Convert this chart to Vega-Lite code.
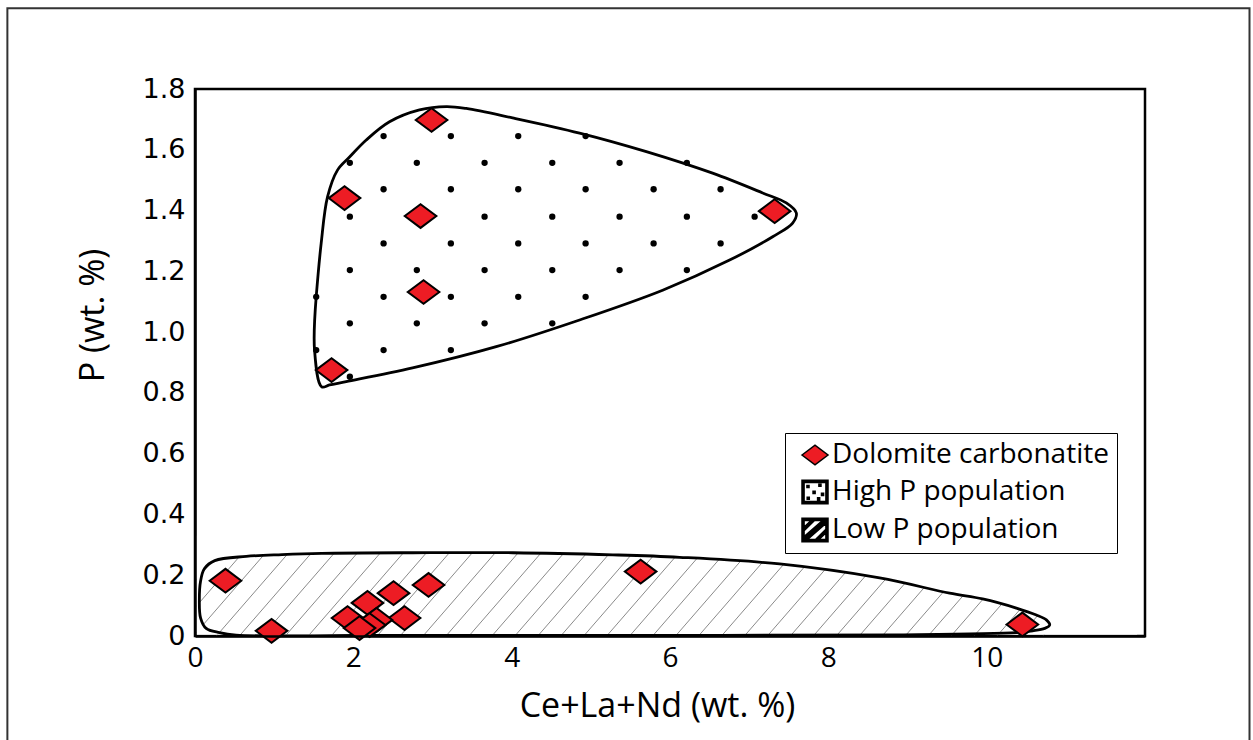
{
  "$schema": "https://vega.github.io/schema/vega-lite/v6.json",
  "autosize": "none",
  "width": 950,
  "height": 547,
  "padding": {"left": 195, "top": 89, "right": 108, "bottom": 104},
  "background": "white",
  "config": {
    "view": {"stroke": "black", "strokeWidth": 2.5},
    "axis": {"grid": false, "ticks": false, "domainColor": "black", "domainWidth": 2.5, "labelColor": "black", "titleColor": "black", "titleFontWeight": "normal", "labelFlush": false, "labelOverlap": false}
  },
  "datasets": {
    "points": [
      {"x": 2.988, "y": 1.698, "series": "Dolomite carbonatite"},
      {"x": 1.889, "y": 1.441, "series": "Dolomite carbonatite"},
      {"x": 2.849, "y": 1.382, "series": "Dolomite carbonatite"},
      {"x": 7.322, "y": 1.398, "series": "Dolomite carbonatite"},
      {"x": 2.887, "y": 1.132, "series": "Dolomite carbonatite"},
      {"x": 1.725, "y": 0.875, "series": "Dolomite carbonatite"},
      {"x": 0.385, "y": 0.182, "series": "Dolomite carbonatite"},
      {"x": 0.967, "y": 0.017, "series": "Dolomite carbonatite"},
      {"x": 5.629, "y": 0.212, "series": "Dolomite carbonatite"},
      {"x": 10.451, "y": 0.038, "series": "Dolomite carbonatite"},
      {"x": 2.95, "y": 0.168, "series": "Dolomite carbonatite"},
      {"x": 2.508, "y": 0.141, "series": "Dolomite carbonatite"},
      {"x": 2.179, "y": 0.109, "series": "Dolomite carbonatite"},
      {"x": 1.927, "y": 0.059, "series": "Dolomite carbonatite"},
      {"x": 2.647, "y": 0.059, "series": "Dolomite carbonatite"},
      {"x": 2.293, "y": 0.053, "series": "Dolomite carbonatite"},
      {"x": 2.205, "y": 0.036, "series": "Dolomite carbonatite"},
      {"x": 2.078, "y": 0.026, "series": "Dolomite carbonatite"}
    ],
    "highHull": [
      {"i": 1, "x": 1.531, "y": 1.117}, {"i": 2, "x": 1.594, "y": 1.293}, {"i": 3, "x": 1.674, "y": 1.445},
      {"i": 4, "x": 1.8, "y": 1.533}, {"i": 5, "x": 1.952, "y": 1.576}, {"i": 6, "x": 2.163, "y": 1.632},
      {"i": 7, "x": 2.457, "y": 1.692}, {"i": 8, "x": 2.836, "y": 1.731}, {"i": 9, "x": 3.174, "y": 1.742},
      {"i": 10, "x": 3.426, "y": 1.736}, {"i": 11, "x": 4.011, "y": 1.705}, {"i": 12, "x": 4.858, "y": 1.655},
      {"i": 13, "x": 5.701, "y": 1.594}, {"i": 14, "x": 6.538, "y": 1.523}, {"i": 15, "x": 7.17, "y": 1.458},
      {"i": 16, "x": 7.469, "y": 1.425}, {"i": 17, "x": 7.596, "y": 1.392}, {"i": 18, "x": 7.549, "y": 1.359},
      {"i": 19, "x": 7.297, "y": 1.314}, {"i": 20, "x": 6.753, "y": 1.237}, {"i": 21, "x": 5.907, "y": 1.138},
      {"i": 22, "x": 4.858, "y": 1.04}, {"i": 23, "x": 3.805, "y": 0.952}, {"i": 24, "x": 2.748, "y": 0.882},
      {"i": 25, "x": 1.91, "y": 0.837}, {"i": 26, "x": 1.699, "y": 0.826}, {"i": 27, "x": 1.6, "y": 0.82},
      {"i": 28, "x": 1.51, "y": 0.941}, {"i": 29, "x": 1.531, "y": 1.117}
    ],
    "lowHull": [
      {"i": 1, "x": 2.0, "y": 0.002}, {"i": 2, "x": 0.52, "y": 0.003}, {"i": 3, "x": 0.31, "y": 0.011},
      {"i": 4, "x": 0.141, "y": 0.025}, {"i": 5, "x": 0.07, "y": 0.06}, {"i": 6, "x": 0.055, "y": 0.118},
      {"i": 7, "x": 0.07, "y": 0.18}, {"i": 8, "x": 0.12, "y": 0.222}, {"i": 9, "x": 0.25, "y": 0.248},
      {"i": 10, "x": 0.647, "y": 0.262}, {"i": 11, "x": 1.1, "y": 0.268}, {"i": 12, "x": 1.6, "y": 0.272},
      {"i": 13, "x": 2.75, "y": 0.274}, {"i": 14, "x": 4.015, "y": 0.274}, {"i": 15, "x": 5.279, "y": 0.267},
      {"i": 16, "x": 6.121, "y": 0.259}, {"i": 17, "x": 7.385, "y": 0.237}, {"i": 18, "x": 8.648, "y": 0.191},
      {"i": 19, "x": 9.532, "y": 0.141}, {"i": 20, "x": 9.949, "y": 0.122}, {"i": 21, "x": 10.375, "y": 0.092},
      {"i": 22, "x": 10.628, "y": 0.069}, {"i": 23, "x": 10.754, "y": 0.053}, {"i": 24, "x": 10.796, "y": 0.036},
      {"i": 25, "x": 10.733, "y": 0.025}, {"i": 26, "x": 10.581, "y": 0.017}, {"i": 27, "x": 10.375, "y": 0.011},
      {"i": 28, "x": 8.901, "y": 0.004}, {"i": 29, "x": 5.11, "y": 0.002}, {"i": 30, "x": 2.0, "y": 0.002}
    ],
    "mask": [
      {"i": 0, "x": 0.02, "y": 0.005}, {"i": 1, "x": 11.9, "y": 0.005}, {"i": 2, "x": 11.9, "y": 0.33},
      {"i": 3, "x": 0.02, "y": 0.33}, {"i": 4, "x": 0.02, "y": 0.005},
      {"i": 5, "x": 2.0, "y": 0.002}, {"i": 6, "x": 0.52, "y": 0.003}, {"i": 7, "x": 0.31, "y": 0.011},
      {"i": 8, "x": 0.141, "y": 0.025}, {"i": 9, "x": 0.07, "y": 0.06}, {"i": 10, "x": 0.055, "y": 0.118},
      {"i": 11, "x": 0.07, "y": 0.18}, {"i": 12, "x": 0.12, "y": 0.222}, {"i": 13, "x": 0.25, "y": 0.248},
      {"i": 14, "x": 0.647, "y": 0.262}, {"i": 15, "x": 1.1, "y": 0.268}, {"i": 16, "x": 1.6, "y": 0.272},
      {"i": 17, "x": 2.75, "y": 0.274}, {"i": 18, "x": 4.015, "y": 0.274}, {"i": 19, "x": 5.279, "y": 0.267},
      {"i": 20, "x": 6.121, "y": 0.259}, {"i": 21, "x": 7.385, "y": 0.237}, {"i": 22, "x": 8.648, "y": 0.191},
      {"i": 23, "x": 9.532, "y": 0.141}, {"i": 24, "x": 9.949, "y": 0.122}, {"i": 25, "x": 10.375, "y": 0.092},
      {"i": 26, "x": 10.628, "y": 0.069}, {"i": 27, "x": 10.754, "y": 0.053}, {"i": 28, "x": 10.796, "y": 0.036},
      {"i": 29, "x": 10.733, "y": 0.025}, {"i": 30, "x": 10.581, "y": 0.017}, {"i": 31, "x": 10.375, "y": 0.011},
      {"i": 32, "x": 8.901, "y": 0.004}, {"i": 33, "x": 5.11, "y": 0.002}, {"i": 34, "x": 2.0, "y": 0.002},
      {"i": 35, "x": 0.02, "y": 0.005}
    ],
    "hatch": [
      {"x": -0.6, "y": 0, "x2": 0.35, "y2": 0.285}, {"x": -0.31, "y": 0, "x2": 0.64, "y2": 0.285},
      {"x": -0.02, "y": 0, "x2": 0.93, "y2": 0.285}, {"x": 0.27, "y": 0, "x2": 1.22, "y2": 0.285},
      {"x": 0.56, "y": 0, "x2": 1.51, "y2": 0.285}, {"x": 0.85, "y": 0, "x2": 1.8, "y2": 0.285},
      {"x": 1.14, "y": 0, "x2": 2.09, "y2": 0.285}, {"x": 1.43, "y": 0, "x2": 2.38, "y2": 0.285},
      {"x": 1.72, "y": 0, "x2": 2.67, "y2": 0.285}, {"x": 2.01, "y": 0, "x2": 2.96, "y2": 0.285},
      {"x": 2.3, "y": 0, "x2": 3.25, "y2": 0.285}, {"x": 2.59, "y": 0, "x2": 3.54, "y2": 0.285},
      {"x": 2.88, "y": 0, "x2": 3.83, "y2": 0.285}, {"x": 3.17, "y": 0, "x2": 4.12, "y2": 0.285},
      {"x": 3.46, "y": 0, "x2": 4.41, "y2": 0.285}, {"x": 3.75, "y": 0, "x2": 4.7, "y2": 0.285},
      {"x": 4.04, "y": 0, "x2": 4.99, "y2": 0.285}, {"x": 4.33, "y": 0, "x2": 5.28, "y2": 0.285},
      {"x": 4.62, "y": 0, "x2": 5.57, "y2": 0.285}, {"x": 4.91, "y": 0, "x2": 5.86, "y2": 0.285},
      {"x": 5.2, "y": 0, "x2": 6.15, "y2": 0.285}, {"x": 5.49, "y": 0, "x2": 6.44, "y2": 0.285},
      {"x": 5.78, "y": 0, "x2": 6.73, "y2": 0.285}, {"x": 6.07, "y": 0, "x2": 7.02, "y2": 0.285},
      {"x": 6.36, "y": 0, "x2": 7.31, "y2": 0.285}, {"x": 6.65, "y": 0, "x2": 7.6, "y2": 0.285},
      {"x": 6.94, "y": 0, "x2": 7.89, "y2": 0.285}, {"x": 7.23, "y": 0, "x2": 8.18, "y2": 0.285},
      {"x": 7.52, "y": 0, "x2": 8.47, "y2": 0.285}, {"x": 7.81, "y": 0, "x2": 8.76, "y2": 0.285},
      {"x": 8.1, "y": 0, "x2": 9.05, "y2": 0.285}, {"x": 8.39, "y": 0, "x2": 9.34, "y2": 0.285},
      {"x": 8.68, "y": 0, "x2": 9.63, "y2": 0.285}, {"x": 8.97, "y": 0, "x2": 9.92, "y2": 0.285},
      {"x": 9.26, "y": 0, "x2": 10.21, "y2": 0.285}, {"x": 9.55, "y": 0, "x2": 10.5, "y2": 0.285},
      {"x": 9.84, "y": 0, "x2": 10.79, "y2": 0.285}, {"x": 10.13, "y": 0, "x2": 11.08, "y2": 0.285},
      {"x": 10.42, "y": 0, "x2": 11.37, "y2": 0.285}, {"x": 10.71, "y": 0, "x2": 11.66, "y2": 0.285}
    ],
    "dots": [
      {"x": 2.382, "y": 1.645}, {"x": 3.232, "y": 1.645}, {"x": 4.083, "y": 1.645}, {"x": 4.934, "y": 1.645},
      {"x": 1.956, "y": 1.557}, {"x": 2.802, "y": 1.557}, {"x": 3.658, "y": 1.557}, {"x": 4.513, "y": 1.557}, {"x": 5.363, "y": 1.557}, {"x": 6.213, "y": 1.557},
      {"x": 2.382, "y": 1.47}, {"x": 3.232, "y": 1.47}, {"x": 4.083, "y": 1.47}, {"x": 4.934, "y": 1.47}, {"x": 5.793, "y": 1.47}, {"x": 6.639, "y": 1.47},
      {"x": 1.956, "y": 1.38}, {"x": 2.802, "y": 1.38}, {"x": 3.658, "y": 1.38}, {"x": 4.513, "y": 1.38}, {"x": 5.363, "y": 1.38}, {"x": 6.213, "y": 1.38}, {"x": 7.069, "y": 1.38},
      {"x": 2.382, "y": 1.292}, {"x": 3.232, "y": 1.292}, {"x": 4.083, "y": 1.292}, {"x": 4.934, "y": 1.292}, {"x": 5.793, "y": 1.292}, {"x": 6.639, "y": 1.292},
      {"x": 1.956, "y": 1.204}, {"x": 2.802, "y": 1.204}, {"x": 3.658, "y": 1.204}, {"x": 4.513, "y": 1.204}, {"x": 5.363, "y": 1.204}, {"x": 6.213, "y": 1.204},
      {"x": 1.531, "y": 1.116}, {"x": 2.382, "y": 1.116}, {"x": 3.232, "y": 1.116}, {"x": 4.083, "y": 1.116}, {"x": 4.934, "y": 1.116},
      {"x": 1.956, "y": 1.029}, {"x": 2.802, "y": 1.029}, {"x": 3.658, "y": 1.029}, {"x": 4.513, "y": 1.029},
      {"x": 1.531, "y": 0.941}, {"x": 2.382, "y": 0.941}, {"x": 3.232, "y": 0.941},
      {"x": 1.956, "y": 0.853}
    ],
    "frame": [{"x": -2.37, "x2": 13.32, "y": 2.066, "y2": -0.4}]
  },
  "encoding": {
    "x": {
      "field": "x", "type": "quantitative",
      "scale": {"domain": [0, 12], "nice": false, "zero": false},
      "axis": {
        "title": "Ce+La+Nd (wt. %)", "values": [0, 2, 4, 6, 8, 10], "zindex": 2,
        "labelFont": "Liberation Sans Narrow, Open Sans, sans-serif", "labelFontSize": 28, "labelPadding": 8,
        "titleFont": "Open Sans", "titleFontSize": 34, "titleX": 462, "titleY": 80, "titleBaseline": "alphabetic"
      }
    },
    "y": {
      "field": "y", "type": "quantitative",
      "scale": {"domain": [0, 1.8], "nice": false, "zero": false},
      "axis": {
        "title": "P (wt. %)", "values": [0, 0.2, 0.4, 0.6, 0.8, 1.0, 1.2, 1.4, 1.6, 1.8], "zindex": 2,
        "labelExpr": "datum.value == 0 ? '0' : format(datum.value, '.1f')",
        "labelFont": "DejaVu Sans", "labelFontSize": 27, "labelPadding": 10,
        "titleFont": "Open Sans", "titleFontSize": 34, "titleAngle": -90, "titleX": -92, "titleY": 226,
        "titleAlign": "center", "titleBaseline": "alphabetic"
      }
    }
  },
  "layer": [
    {
      "data": {"name": "hatch"},
      "mark": {"type": "rule", "color": "#8a8a8a", "strokeWidth": 1, "clip": true},
      "encoding": {"x2": {"field": "x2"}, "y2": {"field": "y2"}}
    },
    {
      "data": {"name": "mask"},
      "mark": {"type": "line", "fill": "white", "stroke": "white", "strokeOpacity": 0, "strokeWidth": 0, "clip": true},
      "encoding": {"order": {"field": "i", "type": "quantitative"}}
    },
    {
      "data": {"name": "lowHull"},
      "mark": {"type": "line", "color": "black", "strokeWidth": 2.8, "interpolate": "catmull-rom", "clip": true},
      "encoding": {"order": {"field": "i", "type": "quantitative"}}
    },
    {
      "data": {"name": "highHull"},
      "mark": {"type": "line", "color": "black", "strokeWidth": 2.8, "interpolate": "catmull-rom"},
      "encoding": {"order": {"field": "i", "type": "quantitative"}}
    },
    {
      "data": {"name": "dots"},
      "mark": {"type": "circle", "size": 40, "color": "black", "opacity": 1}
    },
    {
      "data": {"name": "points"},
      "mark": {"type": "point", "filled": true, "size": 1000, "stroke": "black", "strokeWidth": 2, "opacity": 1},
      "encoding": {
        "fill": {
          "field": "series", "type": "nominal",
          "scale": {"domain": ["Dolomite carbonatite", "High P population", "Low P population"], "range": ["#ED1C24", "black", "black"]},
          "legend": {
            "title": null, "orient": "none", "legendX": 590, "legendY": 344,
            "strokeColor": "black", "fillColor": "white", "padding": 8,
            "labelFont": "Open Sans", "labelFontSize": 28, "labelColor": "black", "labelOffset": 3, "labelLimit": 500,
            "symbolSize": 676, "symbolStrokeColor": "black", "symbolStrokeWidth": 1.5, "symbolOffset": 8,
            "rowPadding": 8
          }
        },
        "shape": {
          "field": "series", "type": "nominal",
          "scale": {
            "domain": ["Dolomite carbonatite", "High P population", "Low P population"],
            "range": [
              "M-1,0L0,-0.75L1,0L0,0.75Z",
              "M-1,-0.9H1V0.9H-1Z M-0.84,-0.74V0.74H0.84V-0.74Z M-0.62,-0.5h0.16v0.16h-0.16Z M0.3,-0.6h0.16v0.16h-0.16Z M-0.15,-0.05h0.16v0.16h-0.16Z M0.5,0.1h0.16v0.16h-0.16Z M-0.6,0.4h0.16v0.16h-0.16Z M0.2,0.45h0.16v0.16h-0.16Z",
              "M-1,-0.9H1V0.9H-1Z M-0.84,-0.74V0.74H0.84V-0.74Z M-0.84,0.74L-0.58,0.74L0.84,-0.5L0.84,-0.74L0.58,-0.74L-0.84,0.5Z M-0.84,0.05L-0.04,-0.74L-0.3,-0.74L-0.84,-0.22Z M0.84,-0.05L0.04,0.74L0.3,0.74L0.84,0.22Z"
            ]
          }
        }
      }
    },
    {
      "data": {"name": "frame"},
      "mark": {"type": "rect", "fill": "transparent", "stroke": "#333333", "strokeWidth": 2, "clip": false},
      "encoding": {"x2": {"field": "x2"}, "y2": {"field": "y2"}}
    }
  ]
}
